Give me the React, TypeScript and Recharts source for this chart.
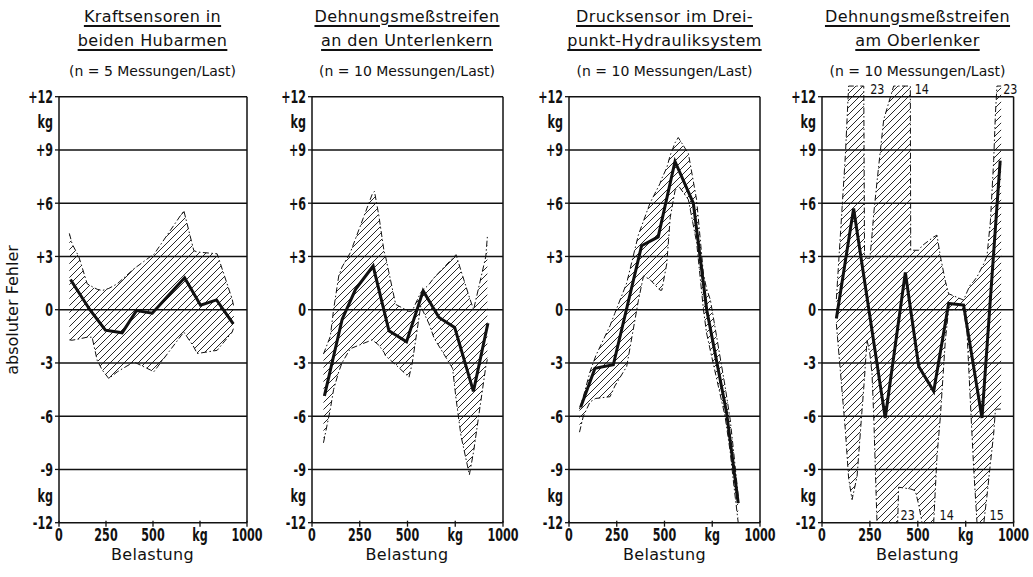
import React from 'react';
import { ComposedChart, Line, Area, XAxis, YAxis, ReferenceLine, Scatter } from 'recharts';

const FONT = '"DejaVu Sans", "Liberation Sans", sans-serif';
const INK = '#111';

// ---------- axis ticks ----------
const yTickValues = [12, 10.6, 9, 6, 3, 0, -3, -6, -9, -10.45, -12];
const yTickLabels = ['+12', 'kg', '+9', '+6', '+3', '0', '-3', '-6', '-9', 'kg', '-12'];
const xTickValues = [0, 250, 500, 750, 1000];
const xTickLabels = ['0', '250', '500', 'kg', '1000'];
const gridValues = [12, 9, 6, 3, 0, -3, -6, -9];

// ---------- titles ----------
const titleLine1 = ['Kraftsensoren in', 'Dehnungsmeßstreifen', 'Drucksensor im Drei-', 'Dehnungsmeßstreifen'];
const titleLine2 = ['beiden Hubarmen', 'an den Unterlenkern', 'punkt-Hydrauliksystem', 'am Oberlenker'];
const subtitles = ['(n = 5 Messungen/Last)', '(n = 10 Messungen/Last)', '(n = 10 Messungen/Last)', '(n = 10 Messungen/Last)'];

// ---------- panel 1 ----------
const p1MeanLoads = [61, 164, 247, 336, 412, 496, 668, 753, 838, 927];
const p1Mean = [1.7, 0.0, -1.15, -1.3, -0.05, -0.2, 1.8, 0.25, 0.55, -0.8];
const p1BandLoads = [55, 70, 105, 150, 176, 203, 230, 265, 310, 398, 487, 504, 664, 717, 735, 841, 921, 930];
const p1BandLow = [-1.7, -1.72, -1.65, -1.55, -1.55, -2.85, -3.4, -3.88, -3.5, -2.94, -3.4, -3.5, -1.26, -2.1, -2.47, -2.29, -1.26, -1.0];
const p1BandHigh = [4.3, 3.7, 3.0, 1.46, 1.3, 1.15, 1.08, 1.2, 1.46, 2.3, 3.0, 3.1, 5.58, 3.33, 3.25, 3.15, 0.6, 0.15];

// ---------- panel 2 ----------
const p2MeanLoads = [65, 158, 228, 320, 403, 495, 582, 665, 747, 845, 921];
const p2Mean = [-4.85, -0.53, 1.15, 2.46, -1.19, -1.81, 1.06, -0.44, -1.0, -4.6, -0.76];
const p2BandLoads = [60, 96, 113, 140, 157, 200, 315, 327, 350, 377, 385, 438, 508, 525, 569, 613, 639, 736, 754, 780, 824, 846, 910, 918];
const p2BandLow = [-7.5, -5.6, -4.5, -3.5, -3.0, -2.2, -1.7, -1.8, -2.0, -2.4, -2.6, -3.1, -3.8, -3.0, 0.2, -0.8, -1.6, -3.3, -5.0, -7.1, -9.3, -8.0, -3.2, -2.8];
const p2BandHigh = [-2.5, -1.5, 0.0, 1.9, 2.4, 3.2, 6.5, 6.67, 5.3, 3.3, 3.0, 0.3, -0.1, -0.07, 0.97, 1.43, 1.8, 2.9, 3.1, 2.2, 0.7, 0.0, 3.0, 4.1];

// ---------- panel 3 ----------
const p3MeanLoads = [61, 136, 232, 380, 467, 555, 651, 721, 825, 886];
const p3Mean = [-5.5, -3.3, -3.1, 3.6, 4.1, 8.35, 6.0, 0.0, -5.8, -10.9];
const p3BandLoads = [55, 75, 110, 140, 215, 240, 302, 363, 390, 424, 476, 486, 512, 530, 555, 572, 625, 668, 704, 720, 740, 817, 844, 860, 886];
const p3BandLow = [-6.9, -6.0, -5.2, -5.0, -4.9, -4.3, -3.2, 0.5, 1.9, 1.7, 1.1, 1.1, 2.6, 5.2, 6.7, 7.0, 6.2, 3.8, 0.0, -1.3, -2.3, -6.0, -8.0, -9.6, -12.0];
const p3BandHigh = [-5.6, -4.9, -3.5, -2.6, -0.9, -0.2, 1.5, 4.2, 5.0, 6.0, 7.1, 7.4, 8.0, 8.7, 9.4, 9.7, 8.8, 6.2, 2.0, 1.2, 0.56, -4.3, -6.2, -7.8, -10.5];

// ---------- panel 4 ----------
const p4MeanLoads = [75, 165, 330, 435, 505, 583, 661, 739, 835, 930];
const p4Mean = [-0.5, 5.7, -6.1, 2.1, -3.2, -4.6, 0.35, 0.26, -6.1, 8.4];
const p4BandLoads = [75, 122, 139, 157, 183, 209, 218, 222, 235, 250, 261, 270, 287, 322, 374, 395, 400, 461, 463, 487, 505, 522, 583, 600, 618, 644, 661, 739, 757, 774, 792, 809, 845, 852, 861, 879, 896, 905, 913, 935];
const p4BandLow = [-0.8, -6.8, -9.5, -10.7, -9.4, -5.65, -4.4, -3.8, -1.7, -2.5, -3.6, -6.0, -12, -12, -12, -12, -10.0, -10.1, -10.1, -10.2, -11.0, -12, -12, -8.3, -6.0, -1.7, 0.0, 0.0, -1.3, -5.1, -9.0, -12, -12, -11.3, -10.5, -8.65, -7.0, -5.65, -5.6, -5.6];
const p4BandHigh = [0.6, 8.7, 12.6, 12.6, 12.6, 12.6, 12.6, 3.0, 2.9, 2.9, 4.2, 5.4, 7.2, 10.7, 12.6, 12.6, 12.6, 12.6, 3.35, 3.35, 3.35, 3.6, 4.1, 4.2, 3.0, 1.6, 0.9, 0.54, 1.0, 1.4, 1.6, 1.85, 2.6, 2.8, 3.0, 5.0, 8.4, 11.0, 12.6, 12.6];
const p4NoteLoads = [289, 521, 983, 447, 651, 912];
const p4NoteValues = [12.45, 12.45, 12.45, -11.55, -11.55, -11.55];
const p4NoteTexts = ['23', '14', '23', '23', '14', '15'];

// ---------- layout of the four panels ----------
const plotLefts = [58.5, 311.5, 569, 821.7];
const plotWidths = [188, 191, 191, 191.6];
const Y_AXIS_W = 55;
const RIGHT_PAD = 20;

const makeBand = (loads: number[], lo: number[], hi: number[]) =>
  loads.map((x, i) => ({ x, lo: lo[i], hi: hi[i], range: [lo[i], hi[i]] }));
const makeSeries = (loads: number[], vals: number[]) => loads.map((x, i) => ({ x, y: vals[i] }));

const panels = [
  { mean: makeSeries(p1MeanLoads, p1Mean), band: makeBand(p1BandLoads, p1BandLow, p1BandHigh), notes: [] as any[] },
  { mean: makeSeries(p2MeanLoads, p2Mean), band: makeBand(p2BandLoads, p2BandLow, p2BandHigh), notes: [] as any[] },
  { mean: makeSeries(p3MeanLoads, p3Mean), band: makeBand(p3BandLoads, p3BandLow, p3BandHigh), notes: [] as any[] },
  {
    mean: makeSeries(p4MeanLoads, p4Mean),
    band: makeBand(p4BandLoads, p4BandLow, p4BandHigh),
    notes: p4NoteLoads.map((x, i) => ({ x, y: p4NoteValues[i], label: p4NoteTexts[i] })),
  },
];

const YTick = (props: any) => {
  const { x, y, payload } = props;
  const idx = yTickValues.indexOf(payload.value);
  const label = yTickLabels[idx];
  const isKg = label === 'kg';
  return (
    <g>
      {!isKg && <line x1={x - 4} x2={x} y1={y} y2={y} stroke={INK} strokeWidth={1.3} />}
      <text
        transform={`translate(${x - 6},${y + 6.5}) scale(0.62,1)`}
        textAnchor="end"
        fontFamily={FONT}
        fontWeight="bold"
        fontSize={18}
        fill={INK}
      >
        {label}
      </text>
    </g>
  );
};

const XTick = (props: any) => {
  const { x, y, payload } = props;
  const idx = xTickValues.indexOf(payload.value);
  const label = xTickLabels[idx];
  return (
    <g>
      <line x1={x} x2={x} y1={y - 2} y2={y + 4} stroke={INK} strokeWidth={1.3} />
      <text
        transform={`translate(${x},${y + 18.5}) scale(0.62,1)`}
        textAnchor="middle"
        fontFamily={FONT}
        fontWeight="bold"
        fontSize={18}
        fill={INK}
      >
        {label}
      </text>
    </g>
  );
};

const NoteShape = (props: any) => {
  const { cx, cy, payload } = props;
  return (
    <text
      transform={`translate(${cx},${cy + 5}) scale(0.8,1)`}
      textAnchor="middle"
      fontFamily={FONT}
      fontSize={14}
      fill={INK}
    >
      {payload.label}
    </text>
  );
};

function Panel({ idx }: { idx: number }) {
  const p = panels[idx];
  const pid = `hatch${idx}`;
  const width = Y_AXIS_W + plotWidths[idx] + RIGHT_PAD;
  return (
    <div style={{ position: 'absolute', left: plotLefts[idx] - Y_AXIS_W, top: 0 }}>
      <ComposedChart
        width={width}
        height={577}
        margin={{ top: 82.5, right: RIGHT_PAD, bottom: 14.3, left: 0 }}
      >
        <defs>
          <pattern id={pid} patternUnits="userSpaceOnUse" width={7} height={7}>
            <path d="M-1,1 L1,-1 M0,7 L7,0 M6,8 L8,6" stroke={INK} strokeWidth={0.9} />
          </pattern>
        </defs>
        <XAxis
          type="number"
          dataKey="x"
          domain={[0, 1000]}
          ticks={xTickValues}
          interval={0}
          height={40}
          tickSize={0}
          tickMargin={0}
          tickLine={false}
          tick={<XTick />}
          axisLine={{ stroke: INK, strokeWidth: 1.5 }}
        />
        <YAxis
          type="number"
          domain={[-12, 12.8]}
          ticks={yTickValues}
          interval={0}
          width={Y_AXIS_W}
          tickSize={0}
          tickMargin={0}
          tickLine={false}
          axisLine={false}
          tick={<YTick />}
        />
        {gridValues.map((v) => (
          <ReferenceLine key={`g${v}`} y={v} stroke={INK} strokeWidth={1.5} />
        ))}
        <ReferenceLine segment={[{ x: 0, y: -12 }, { x: 0, y: 12 }]} stroke={INK} strokeWidth={1.5} />
        <ReferenceLine segment={[{ x: 1000, y: -12 }, { x: 1000, y: 12 }]} stroke={INK} strokeWidth={1.5} />
        <Area
          data={p.band}
          dataKey="range"
          type="linear"
          stroke="none"
          fill={`url(#${pid})`}
          fillOpacity={1}
          dot={false}
          activeDot={false}
          isAnimationActive={false}
        />
        <Line
          data={p.band}
          dataKey="hi"
          type="linear"
          stroke={INK}
          strokeWidth={1}
          strokeDasharray="6 2.5 1.5 2.5"
          dot={false}
          activeDot={false}
          isAnimationActive={false}
        />
        <Line
          data={p.band}
          dataKey="lo"
          type="linear"
          stroke={INK}
          strokeWidth={1}
          strokeDasharray="6 2.5 1.5 2.5"
          dot={false}
          activeDot={false}
          isAnimationActive={false}
        />
        <Line
          data={p.mean}
          dataKey="y"
          type="linear"
          stroke={INK}
          strokeWidth={3}
          strokeLinejoin="miter"
          dot={false}
          activeDot={false}
          isAnimationActive={false}
        />
        {p.notes.length > 0 && (
          <Scatter data={p.notes} dataKey="y" shape={<NoteShape />} isAnimationActive={false} />
        )}
      </ComposedChart>
    </div>
  );
}

const textBase: React.CSSProperties = {
  position: 'absolute',
  fontFamily: FONT,
  color: INK,
  whiteSpace: 'nowrap',
  transform: 'translateX(-50%)',
};

export default function App() {
  return (
    <div
      style={{
        position: 'absolute',
        left: 0,
        top: 0,
        width: 1033,
        height: 577,
        background: '#fff',
        overflow: 'hidden',
        fontFamily: FONT,
      }}
    >
      {[0, 1, 2, 3].map((i) => (
        <Panel key={i} idx={i} />
      ))}
      {[0, 1, 2, 3].map((i) => {
        const cx = plotLefts[i] + plotWidths[i] / 2;
        return (
          <React.Fragment key={`t${i}`}>
            <div
              style={{
                ...textBase,
                left: cx,
                top: 8.5,
                fontSize: 16,
                lineHeight: '16px',
                letterSpacing: 0.4,
                textDecoration: 'underline',
                textDecorationThickness: '1.5px',
                textUnderlineOffset: '3px',
              }}
            >
              {titleLine1[i]}
            </div>
            <div
              style={{
                ...textBase,
                left: cx,
                top: 33.2,
                fontSize: 16,
                lineHeight: '16px',
                letterSpacing: 0.4,
                textDecoration: 'underline',
                textDecorationThickness: '1.5px',
                textUnderlineOffset: '3px',
              }}
            >
              {titleLine2[i]}
            </div>
            <div style={{ ...textBase, left: cx, top: 64.2, fontSize: 14, lineHeight: '14px' }}>
              {subtitles[i]}
            </div>
            <div style={{ ...textBase, left: cx, top: 547, fontSize: 16, lineHeight: '16px', letterSpacing: 0.3 }}>
              Belastung
            </div>
          </React.Fragment>
        );
      })}
      <div
        style={{
          position: 'absolute',
          left: 13,
          top: 310,
          fontSize: 16,
          lineHeight: '16px',
          whiteSpace: 'nowrap',
          color: INK,
          transform: 'translate(-50%, -50%) rotate(-90deg)',
        }}
      >
        absoluter Fehler
      </div>
    </div>
  );
}
